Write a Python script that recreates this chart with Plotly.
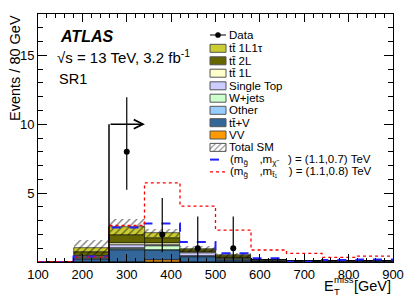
import numpy as np
import plotly.graph_objects as go

# ---------------- data ----------------
bin_edges = [100, 180, 260, 340, 420, 500, 580, 660, 740, 820, 900]
bin_centers = [140, 220, 300, 380, 460, 540, 620, 700, 780, 860]

# stacked backgrounds (bottom -> top)
vv      = [0.00, 0.00, 0.00, 0.15, 0.00, 0.00, 0.00, 0.00, 0.00, 0.00]
ttv     = [0.00, 0.22, 0.85, 0.70, 0.35, 0.15, 0.06, 0.03, 0.02, 0.02]
other   = [0.00, 0.03, 0.10, 0.05, 0.05, 0.03, 0.01, 0.01, 0.00, 0.00]
wjets   = [0.00, 0.05, 0.10, 0.25, 0.05, 0.03, 0.01, 0.01, 0.01, 0.01]
stop    = [0.00, 0.05, 0.15, 0.10, 0.20, 0.05, 0.02, 0.01, 0.01, 0.01]
tt1l    = [0.00, 0.05, 0.15, 0.15, 0.05, 0.04, 0.01, 0.01, 0.00, 0.00]
tt2l    = [0.00, 0.35, 0.60, 0.35, 0.15, 0.10, 0.03, 0.01, 0.01, 0.01]
tt1l1t  = [0.00, 0.30, 0.60, 0.35, 0.10, 0.08, 0.02, 0.01, 0.00, 0.00]
sm_unc  = [0.00, 0.52, 0.58, 0.28, 0.21, 0.20, 0.08, 0.05, 0.04, 0.04]

# signals
sig_a = [0.0, 0.40, 2.50, 2.80, 1.45, 0.63, 0.27, 0.02, 0.15, 0.18]   # (1.1,0.7)
sig_b = [0.0, 0.35, 2.65, 5.75, 4.06, 2.32, 0.87, 0.63, 0.34, 0.43]   # (1.1,0.8)

# data
data_x = [300, 380, 460, 540]
data_y = [8, 2, 1, 1]
data_up = [3.96, 2.64, 2.30, 2.30]
data_dn = [2.76, 1.29, 0.83, 0.83]

x_ticks = [100, 200, 300, 400, 500, 600, 700, 800, 900]
y_ticks = [5, 10, 15]
cut_value = 260
arrow_end = 341
arrow_height = 10

# ---------------- styling ----------------
FONT = "Liberation Sans"
OFF = 8                      # page body margin of the html page
W, H = 415 - OFF, 298 - OFF
L, R, T, B = 38, 393, 14, 262  # plot area in page pixels

def fx(px):
    return (px - L) / (R - L)

def fy(py):
    return (B - py) / (B - T)

layers = [
    ("VV", vv, "#ff9900"),
    ("tt+V", ttv, "#336699"),
    ("Other", other, "#99ccff"),
    ("W+jets", wjets, "#ccffcc"),
    ("Single Top", stop, "#ccccff"),
    ("tt 1L", tt1l, "#ffffcc"),
    ("tt 2L", tt2l, "#666600"),
    ("tt 1L1tau", tt1l1t, "#cccc33"),
]

fig = go.Figure()
base = np.zeros(len(bin_centers))
for name, vals, col in layers:
    v = np.array(vals)
    fig.add_trace(go.Bar(x=bin_centers, y=v, base=base.copy(), width=80,
                         marker=dict(color=col, line=dict(color="black", width=0.6)),
                         showlegend=False, name=name))
    base = base + v
total = base
unc = np.array(sm_unc)
fig.add_trace(go.Bar(x=bin_centers, y=2 * unc, base=total - unc, width=80,
                     marker=dict(color="rgba(0,0,0,0)", line=dict(width=0),
                                 pattern=dict(shape="/", fgcolor="black", bgcolor="rgba(0,0,0,0)",
                                              size=5, solidity=0.28)),
                     showlegend=False))

fig.add_trace(go.Scatter(x=bin_edges, y=sig_a + [sig_a[-1]], mode="lines", line_shape="hv",
                         line=dict(color="#2222ff", width=2, dash="dash"), showlegend=False))
fig.add_trace(go.Scatter(x=bin_edges, y=sig_b + [sig_b[-1]], mode="lines", line_shape="hv",
                         line=dict(color="#ff0000", width=1.3, dash="dot"), showlegend=False))

fig.add_trace(go.Scatter(x=data_x, y=data_y, mode="markers",
                         marker=dict(color="black", size=6),
                         error_y=dict(type="data", symmetric=False, array=data_up, arrayminus=data_dn,
                                      width=0, thickness=1.2, color="black"),
                         showlegend=False))

# cut arrow
fig.add_shape(type="line", x0=cut_value, x1=cut_value, y0=0, y1=arrow_height,
              line=dict(color="black", width=1.5))
fig.add_annotation(x=arrow_end, y=arrow_height, ax=cut_value, ay=arrow_height,
                   axref="x", ayref="y", xref="x", yref="y", text="",
                   showarrow=True, arrowhead=5, arrowsize=1.2, arrowwidth=1.5, arrowcolor="black")

# ---------------- legend (manual) ----------------
SP = "\u2003"
leg_rows = [
    ("Data", "data", None, 35.0),
    ("tt\u0304 1L1\u03c4", "box", "#cccc33", 48.3),
    ("tt\u0304 2L", "box", "#666600", 60.8),
    ("tt\u0304 1L", "box", "#ffffcc", 73.2),
    ("Single Top", "box", "#ccccff", 85.8),
    ("W+jets", "box", "#ccffcc", 98.2),
    ("Other", "box", "#99ccff", 110.3),
    ("tt\u0304+V", "box", "#336699", 122.7),
    ("VV", "box", "#ff9900", 135.0),
    ("Total SM", "hatch", None, 147.4),
    ("(m<sub>g\u0303</sub>" + SP + ",m<sub>\u03c7\u0303</sub>" + SP + ") = (1.1,0.7) TeV", "dash", "#2222ff", 159.6),
    ("(m<sub>g\u0303</sub>" + SP + ",m<sub>t\u0303\u2081</sub>" + SP + ") = (1.1,0.8) TeV", "dot", "#ff0000", 171.8),
]
bx0, bx1 = 210, 226
for text, kind, col, yc in leg_rows:
    if kind == "box":
        fig.add_shape(type="rect", xref="paper", yref="paper",
                      x0=fx(bx0), x1=fx(bx1), y0=fy(yc + 4), y1=fy(yc - 4),
                      fillcolor=col, line=dict(color="#555555", width=1))
    elif kind == "data":
        fig.add_shape(type="line", xref="paper", yref="paper",
                      x0=fx(bx0), x1=fx(bx1), y0=fy(yc), y1=fy(yc), line=dict(color="black", width=1))
        fig.add_shape(type="circle", xref="paper", yref="paper",
                      x0=fx(218 - 2.6), x1=fx(218 + 2.6), y0=fy(yc + 2.6), y1=fy(yc - 2.6),
                      fillcolor="black", line=dict(color="black", width=0.5))
    elif kind == "hatch":
        fig.add_shape(type="rect", xref="paper", yref="paper",
                      x0=fx(bx0), x1=fx(bx1), y0=fy(yc + 4), y1=fy(yc - 4),
                      fillcolor="rgba(0,0,0,0)", line=dict(color="#555555", width=1))
    elif kind in ("dash", "dot"):
        fig.add_shape(type="line", xref="paper", yref="paper",
                      x0=fx(bx0), x1=fx(bx1), y0=fy(yc), y1=fy(yc),
                      line=dict(color=col, width=2 if kind == "dash" else 1.3,
                                dash="dash" if kind == "dash" else "dot"))
    fig.add_annotation(xref="paper", yref="paper", x=fx(227.5), y=fy(yc), text=text,
                       showarrow=False, xanchor="left", yanchor="middle",
                       font=dict(family=FONT, size=11.5, color="black"))

# hatched swatch via small auxiliary axes
fig.add_trace(go.Bar(x=[0.5], y=[1], width=1, xaxis="x2", yaxis="y2",
                     marker=dict(color="rgba(0,0,0,0)", line=dict(width=0),
                                 pattern=dict(shape="/", fgcolor="black", bgcolor="rgba(0,0,0,0)",
                                              size=4, solidity=0.25)),
                     showlegend=False))

# ---------------- texts ----------------
fig.add_annotation(xref="paper", yref="paper", x=fx(58), y=fy(36), text="<b><i>ATLAS</i></b>",
                   showarrow=False, xanchor="left", yanchor="middle",
                   font=dict(family=FONT, size=16, color="black"))
fig.add_annotation(xref="paper", yref="paper", x=fx(55), y=fy(57),
                   text="\u221as = 13 TeV, 3.2 fb<sup>-1</sup>",
                   showarrow=False, xanchor="left", yanchor="middle",
                   font=dict(family=FONT, size=15, color="black"))
fig.add_annotation(xref="paper", yref="paper", x=fx(57), y=fy(79), text="SR1",
                   showarrow=False, xanchor="left", yanchor="middle",
                   font=dict(family=FONT, size=14.5, color="black"))

# y title
fig.add_annotation(xref="paper", yref="paper", x=fx(15), y=fy(13), text="Events / 80 GeV",
                   textangle=-90, showarrow=False, xanchor="center", yanchor="top",
                   font=dict(family=FONT, size=14.5, color="black"))
# x title pieces
fig.add_annotation(xref="paper", yref="paper", x=fx(322), y=fy(286), text="E",
                   showarrow=False, xanchor="left", yanchor="middle",
                   font=dict(family=FONT, size=14.5, color="black"))
fig.add_annotation(xref="paper", yref="paper", x=fx(332), y=fy(279), text="miss",
                   showarrow=False, xanchor="left", yanchor="middle",
                   font=dict(family=FONT, size=9.5, color="black"))
fig.add_annotation(xref="paper", yref="paper", x=fx(332), y=fy(291), text="T",
                   showarrow=False, xanchor="left", yanchor="middle",
                   font=dict(family=FONT, size=9.5, color="black"))
fig.add_annotation(xref="paper", yref="paper", x=fx(393), y=fy(286), text="[GeV]",
                   showarrow=False, xanchor="right", yanchor="middle",
                   font=dict(family=FONT, size=14.5, color="black"))

fig.update_layout(
    width=W, height=H, autosize=False,
    margin=dict(l=L - OFF, r=W - (R - OFF), t=T - OFF, b=H - (B - OFF), pad=0),
    paper_bgcolor="white", plot_bgcolor="white",
    barmode="overlay", bargap=0,
    font=dict(family=FONT, size=13, color="black"),
    xaxis=dict(range=[100, 900], tickvals=x_ticks, ticktext=[str(v) for v in x_ticks],
               ticks="inside", ticklen=8, tickwidth=1, tickcolor="black",
               showline=True, linecolor="black", linewidth=1, mirror="ticks",
               showgrid=False, zeroline=False,
               minor=dict(ticks="inside", ticklen=4, dtick=20, tick0=100, tickcolor="black", showgrid=False),
               tickfont=dict(family=FONT, size=13)),
    yaxis=dict(range=[0, 18], tickvals=y_ticks, ticktext=[str(v) for v in y_ticks],
               ticks="inside", ticklen=9, tickwidth=1, tickcolor="black",
               showline=True, linecolor="black", linewidth=1, mirror="ticks",
               showgrid=False, zeroline=False,
               minor=dict(ticks="inside", ticklen=5, dtick=1, tick0=0, tickcolor="black", showgrid=False),
               tickfont=dict(family=FONT, size=13)),
    xaxis2=dict(domain=[fx(bx0), fx(bx1)], range=[0, 1], visible=False, anchor="y2"),
    yaxis2=dict(domain=[fy(147.4 + 4), fy(147.4 - 4)], range=[0, 1], visible=False, anchor="x2"),
)

fig.write_html("out.html")
